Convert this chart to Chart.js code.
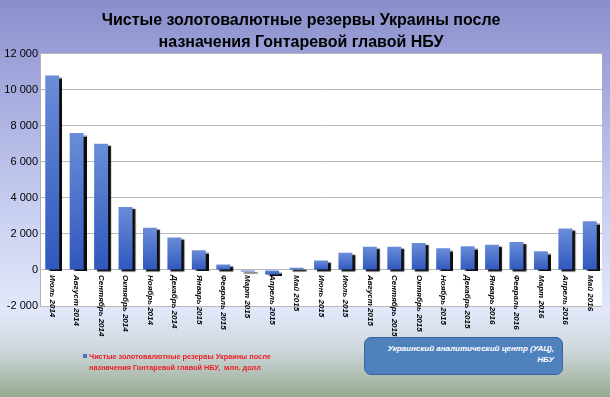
<!DOCTYPE html>
<html>
<head>
<meta charset="utf-8">
<script src="https://cdn.jsdelivr.net/npm/chart.js@4"></script>
<style>
  html, body { margin: 0; padding: 0; }
  #wrap { position: relative; width: 610px; height: 397px; overflow: hidden; font-family: "Liberation Sans", Arial, sans-serif; }
  #chart { position: absolute; left: 0; top: 0; }
  #legend { position: absolute; left: 82px; top: 351px; color: #ee1c25; font-weight: bold; font-size: 7.3px; line-height: 11px; white-space: pre; }
  #legend .sw { position: absolute; left: 1px; top: 3px; width: 4px; height: 4px; background: #4a6fc9; }
  #legend .txt { margin-left: 7px; }
  #source { position: absolute; left: 364px; top: 337px; width: 197px; height: 36px; border-radius: 7px;
            background: #4f81bd; border: 1px solid #3a62a0; color: #fff; font-weight: bold; font-style: italic;
            font-size: 8px; line-height: 11px; text-align: right; box-sizing: content-box; }
  #source div { padding: 5px 8px 0 0; }
</style>
</head>
<body>
<div id="wrap">
  <canvas id="chart" width="610" height="397"></canvas>
  <div id="legend"><span class="sw"></span><div class="txt">Чистые золотовалютные резервы Украины после
назначения Гонтаревой главой НБУ,  млн. долл</div></div>
  <div id="source"><div>Украинский аналитический центр (УАЦ),<br>НБУ</div></div>
</div>
<script>
const months = ['Июль 2014', 'Август 2014', 'Сентябрь 2014', 'Октябрь 2014', 'Ноябрь 2014', 'Декабрь 2014',
    'Январь 2015', 'Февраль 2015', 'Март 2015', 'Апрель 2015', 'Май 2015', 'Июнь 2015', 'Июль 2015',
    'Август 2015', 'Сентябрь 2015', 'Октябрь 2015', 'Ноябрь 2015', 'Декабрь 2015', 'Январь 2016',
    'Февраль 2016', 'Март 2016', 'Апрель 2016', 'Май 2016'];
const reserves = [10800, 7600, 7000, 3500, 2350, 1800, 1100, 300, -80, -250, 120, 520, 950,
    1290, 1290, 1500, 1200, 1320, 1400, 1550, 1040, 2300, 2700];
const yMin = -2000;
const yMax = 12000;
const yStep = 2000;
const titleLines = ['Чистые золотовалютные резервы Украины после', 'назначения Гонтаревой главой НБУ'];

Chart.defaults.font.family = '"Liberation Sans", Arial, sans-serif';

// background gradient + white plot area
const backdrop = {
    id: 'backdrop',
    beforeDraw(chart) {
        const { ctx, width, height, chartArea } = chart;
        const g = ctx.createLinearGradient(0, 0, 0, height);
        g.addColorStop(0, '#8a8fcc');
        g.addColorStop(0.2, '#a2a7dc');
        g.addColorStop(0.5, '#c6ccef');
        g.addColorStop(0.78, '#e2e8fa');
        g.addColorStop(0.88, '#cfd8dd');
        g.addColorStop(1, '#96aa90');
        ctx.save();
        ctx.fillStyle = g;
        ctx.fillRect(0, 0, width, height);
        ctx.fillStyle = '#ffffff';
        ctx.fillRect(chartArea.left, chartArea.top, chartArea.right - chartArea.left, chartArea.bottom - chartArea.top);
        ctx.restore();
    }
};

// black drop shadow under the bars
const barShadow = {
    id: 'barShadow',
    beforeDatasetDraw(chart) {
        const ctx = chart.ctx;
        ctx.save();
        ctx.shadowColor = 'rgba(0,0,0,0.95)';
        ctx.shadowOffsetX = 3;
        ctx.shadowOffsetY = 2;
        ctx.shadowBlur = 1;
    },
    afterDatasetDraw(chart) {
        chart.ctx.restore();
    }
};

// category labels hang under the zero line, reading top to bottom
const monthLabels = {
    id: 'monthLabels',
    afterDatasetsDraw(chart) {
        const { ctx, scales: { x, y } } = chart;
        const y0 = y.getPixelForValue(0) + 5;
        ctx.save();
        ctx.font = 'italic bold 8px "Liberation Sans", Arial, sans-serif';
        ctx.fillStyle = '#000';
        ctx.textAlign = 'left';
        ctx.textBaseline = 'middle';
        months.forEach((m, i) => {
            ctx.save();
            ctx.translate(x.getPixelForValue(i), y0);
            ctx.rotate(Math.PI / 2);
            ctx.fillText(m, 0, 0);
            ctx.restore();
        });
        ctx.restore();
    }
};

function barFill(c) {
    const chart = c.chart;
    const y = chart.scales.y;
    if (!y || typeof c.raw !== 'number') return '#4472c4';
    const top = y.getPixelForValue(Math.max(c.raw, 0));
    const bot = y.getPixelForValue(Math.min(c.raw, 0));
    if (!isFinite(top) || !isFinite(bot)) return '#4472c4';
    const g = chart.ctx.createLinearGradient(0, top, 0, bot + 0.5);
    g.addColorStop(0, '#6a8dd8');
    g.addColorStop(1, '#2f57bd');
    return g;
}

new Chart(document.getElementById('chart'), {
    type: 'bar',
    data: {
        labels: months,
        datasets: [{
            label: 'Чистые золотовалютные резервы Украины после назначения Гонтаревой главой НБУ,  млн. долл',
            data: reserves,
            backgroundColor: barFill,
            barPercentage: 0.57,
            categoryPercentage: 1
        }]
    },
    options: {
        responsive: false,
        animation: false,
        devicePixelRatio: 1,
        layout: { padding: { top: 1, left: 0, right: 8, bottom: 91 } },
        plugins: {
            legend: { display: false },
            tooltip: { enabled: false },
            title: {
                display: true,
                text: titleLines,
                color: '#000',
                font: { size: 16, weight: 'bold', lineHeight: 1.4 },
                padding: { top: 8, bottom: 0 }
            }
        },
        scales: {
            x: { display: false },
            y: {
                min: yMin,
                max: yMax,
                afterFit(scale) { scale.width = 40; },
                grid: { color: '#b8b8b8', drawTicks: false },
                border: { color: '#b0b0b0' },
                ticks: {
                    stepSize: yStep,
                    padding: 2,
                    color: '#000',
                    font: { size: 11 },
                    callback: v => (v < 0 ? '-' : '') + String(Math.abs(v)).replace(/\B(?=(\d{3})+(?!\d))/g, ' ')
                }
            }
        }
    },
    plugins: [backdrop, barShadow, monthLabels]
});
</script>
</body>
</html>
